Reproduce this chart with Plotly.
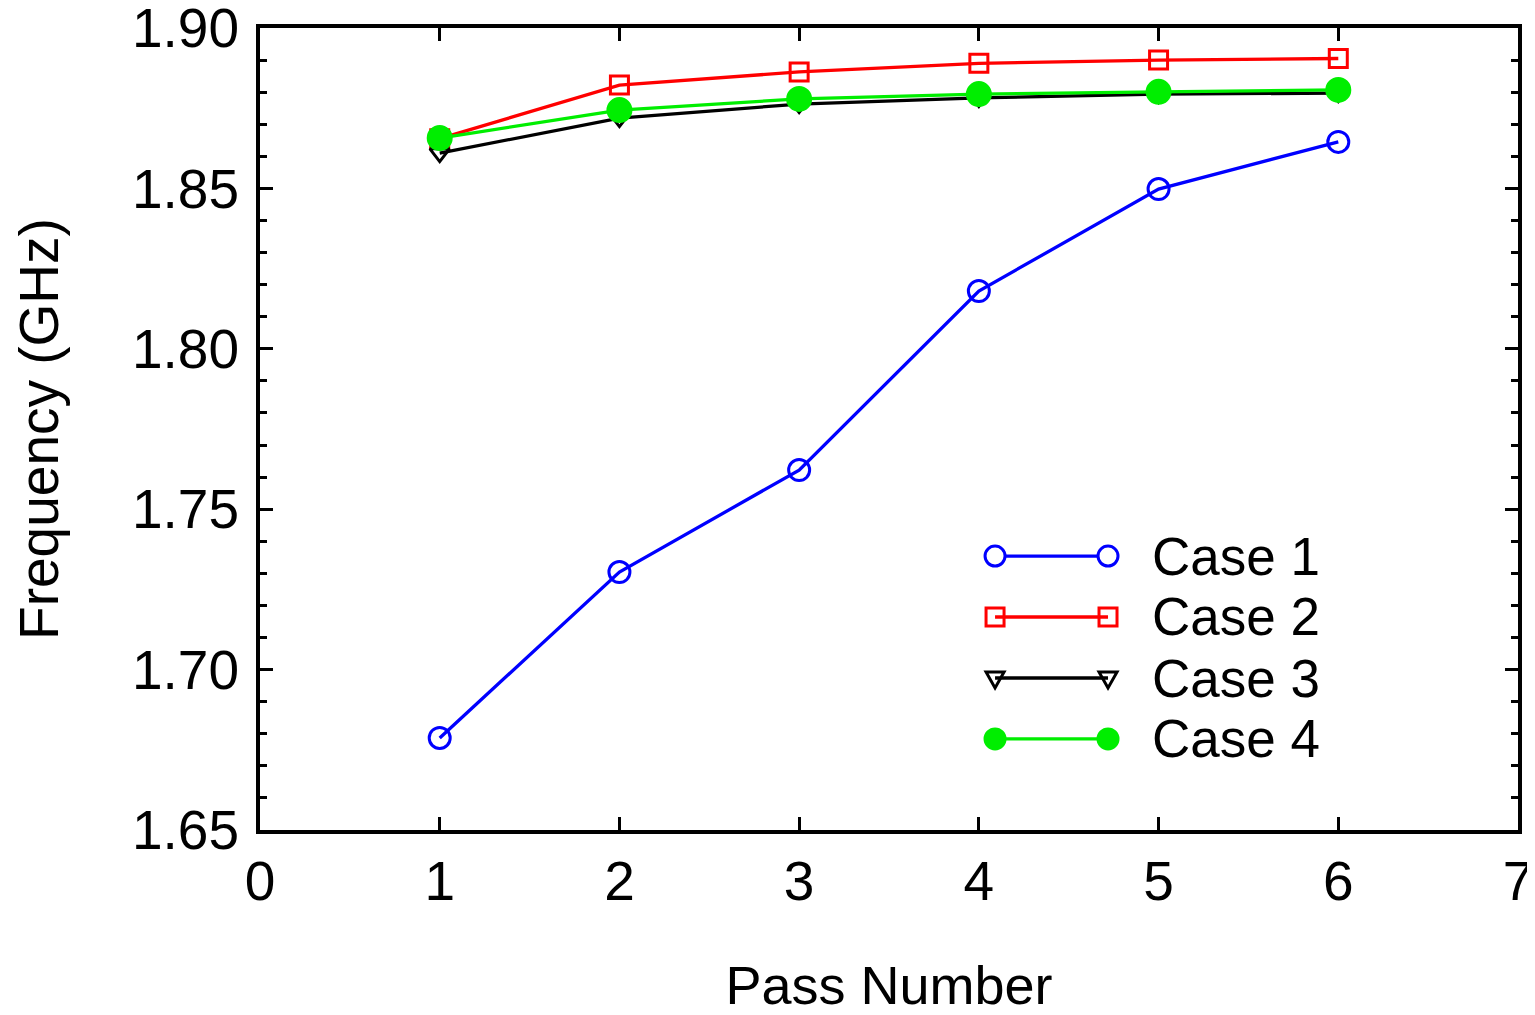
import plotly.graph_objects as go

passes = [1, 2, 3, 4, 5, 6]
case1 = [1.6787, 1.7304, 1.7622, 1.8180, 1.8498, 1.8645]
case2 = [1.8655, 1.8822, 1.8863, 1.8890, 1.8900, 1.8905]
case3 = [1.8610, 1.8719, 1.8763, 1.8782, 1.8794, 1.8797]
case4 = [1.8657, 1.8744, 1.8779, 1.8794, 1.8801, 1.8807]
names = ["Case 1", "Case 2", "Case 3", "Case 4"]
series = [case1, case2, case3, case4]
colors = ["#0000FF", "#FF0000", "#000000", "#00EE00"]
symbols = ["circle-open", "square-open", "triangle-down-open", "circle"]
msizes = [21, 18, 17, 23]
ytick_vals = [1.65, 1.70, 1.75, 1.80, 1.85, 1.90]
ytick_text = ["1.65", "1.70", "1.75", "1.80", "1.85", "1.90"]

FONT = "Liberation Sans, Arial, sans-serif"
LW = 3.3
fig = go.Figure()
for name, ys, col, sym, ms in zip(names, series, colors, symbols, msizes):
    fig.add_trace(go.Scatter(
        x=passes, y=ys, name=name, mode="lines+markers",
        line=dict(color=col, width=LW),
        marker=dict(symbol=sym, size=ms, color=col, line=dict(color=col, width=3)),
        showlegend=False,
    ))

# custom legend (long line with marker at each end)
leg_y = [0.3416, 0.2656, 0.1895, 0.1135]
x0, x1, xt = 0.5843, 0.6741, 0.7075
shapes = []
annotations = []
for i, (name, col, sym) in enumerate(zip(names, colors, symbols)):
    y = leg_y[i]
    shapes.append(dict(type="line", xref="paper", yref="paper", x0=x0, x1=x1, y0=y, y1=y,
                       line=dict(color=col, width=LW)))
    for xc in (x0, x1):
        if sym.startswith("circle"):
            shapes.append(dict(type="circle", xref="paper", yref="paper",
                               xsizemode="pixel", ysizemode="pixel", xanchor=xc, yanchor=y,
                               x0=-10, x1=10, y0=-10, y1=10,
                               line=dict(color=col, width=3),
                               fillcolor=(col if sym == "circle" else "white")))
        elif sym.startswith("square"):
            shapes.append(dict(type="rect", xref="paper", yref="paper",
                               xsizemode="pixel", ysizemode="pixel", xanchor=xc, yanchor=y,
                               x0=-9, x1=9, y0=-9, y1=9,
                               line=dict(color=col, width=3), fillcolor="rgba(0,0,0,0)"))
        else:
            shapes.append(dict(type="path", xref="paper", yref="paper",
                               xsizemode="pixel", ysizemode="pixel", xanchor=xc, yanchor=y,
                               path="M-9,6 L9,6 L0,-10 Z",
                               line=dict(color=col, width=3), fillcolor="rgba(0,0,0,0)"))
    annotations.append(dict(text=name, xref="paper", yref="paper", x=xt, y=y,
                            xanchor="left", yanchor="middle", showarrow=False,
                            font=dict(family=FONT, size=53, color="black")))

fig.update_layout(
    width=1527, height=1007,
    margin=dict(l=252, r=17, t=20, b=185),
    paper_bgcolor="white", plot_bgcolor="white",
    font=dict(family=FONT, size=54, color="black"),
    shapes=shapes, annotations=annotations,
)
fig.update_xaxes(
    range=[0, 7], dtick=1, tick0=0, showgrid=False, zeroline=False, automargin=False,
    showline=True, linewidth=4, linecolor="black", mirror="ticks",
    ticks="inside", ticklen=13, tickwidth=3, tickcolor="black",
    ticklabeloverflow="allow",
    tickfont=dict(family=FONT, size=55),
    title=dict(text="Pass Number", font=dict(family=FONT, size=54), standoff=62),
)
fig.update_yaxes(
    range=[1.65, 1.90], tickmode="array", tickvals=ytick_vals, ticktext=ytick_text,
    showgrid=False, zeroline=False, automargin=False,
    showline=True, linewidth=4, linecolor="black", mirror="ticks",
    ticks="inside", ticklen=13, tickwidth=3, tickcolor="black",
    ticklabelstandoff=6, ticklabeloverflow="allow",
    minor=dict(dtick=0.01, tick0=1.65, ticks="inside", ticklen=7, tickwidth=3,
               tickcolor="black", showgrid=False),
    tickfont=dict(family=FONT, size=55),
    title=dict(text="Frequency (GHz)", font=dict(family=FONT, size=55), standoff=64),
)
fig.write_html("out.html")
